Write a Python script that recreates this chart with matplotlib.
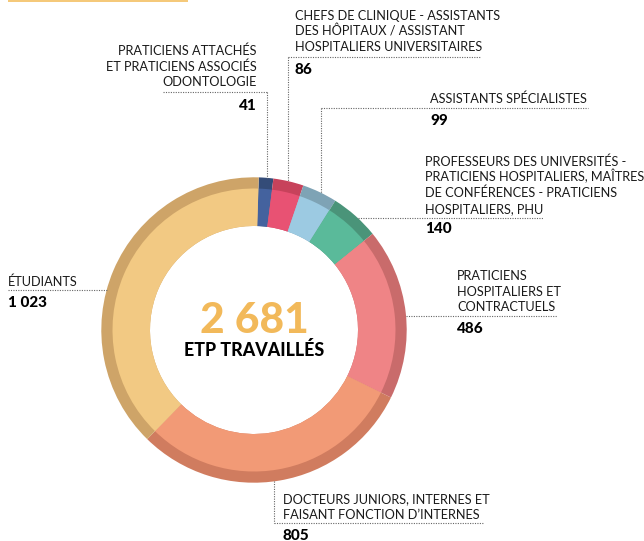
import numpy as np
import matplotlib.pyplot as plt
from matplotlib.patches import Rectangle

plt.rcParams['font.family'] = ['Lato', 'DejaVu Sans']

# data, clockwise from the top of the ring
categories = [
    "PRATICIENS ATTACHÉS\nET PRATICIENS ASSOCIÉS\nODONTOLOGIE",
    "CHEFS DE CLINIQUE - ASSISTANTS\nDES HÔPITAUX / ASSISTANT\nHOSPITALIERS UNIVERSITAIRES",
    "ASSISTANTS SPÉCIALISTES",
    "PROFESSEURS DES UNIVERSITÉS -\nPRATICIENS HOSPITALIERS, MAÎTRES\nDE CONFÉRENCES - PRATICIENS\nHOSPITALIERS, PHU",
    "PRATICIENS\nHOSPITALIERS ET\nCONTRACTUELS",
    "DOCTEURS JUNIORS, INTERNES ET\nFAISANT FONCTION D’INTERNES",
    "ÉTUDIANTS",
]
values = [41, 86, 99, 140, 486, 805, 1023]
value_labels = ["41", "86", "99", "140", "486", "805", "1 023"]
total_label = "2 681"
total_caption = "ETP TRAVAILLÉS"

fill_colors = ["#44629e", "#e85273", "#9ccae2", "#5aba9a", "#ef8486", "#f29a76", "#f2c983"]
rim_colors = ["#344c78", "#c7425b", "#7ea3b5", "#4a9479", "#c96b6b", "#d07c5f", "#cea468"]

W, H = 644, 541
CX, CY = 254, 330
R_OUT, R_RIM, R_IN = 152.7, 141.5, 104
START = 90 - 1.8
LINE_H = 15.6
DOT = dict(color="#666666", lw=0.8, ls=(0, (1, 1.2)))

# label layout: x, first baseline, ha, value baseline
layout = [
    (257, 55, "right", 110),
    (295, 20, "left", 74),
    (430, 103.3, "left", 125),
    (425, 166, "left", 233.3),
    (457, 280, "left", 332.7),
    (283, 503.3, "left", 539.5),
    (8, 286, "left", 306.7),
]


def py(y):
    return H - y


def ring_y(x, top=True):
    d = np.sqrt(R_OUT ** 2 - (x - CX) ** 2)
    return CY - d if top else CY + d


def ring_x(y, right=True):
    d = np.sqrt(R_OUT ** 2 - (y - CY) ** 2)
    return CX + d if right else CX - d


fig = plt.figure(figsize=(W / 100, H / 100), dpi=100)
ax = fig.add_axes([0, 0, 1, 1])

ax.pie(values, radius=R_OUT, center=(CX, py(CY)), colors=rim_colors,
       startangle=START, counterclock=False,
       wedgeprops=dict(width=R_OUT - R_IN, linewidth=0))
ax.pie(values, radius=R_RIM, center=(CX, py(CY)), colors=fill_colors,
       startangle=START, counterclock=False,
       wedgeprops=dict(width=R_RIM - R_IN, linewidth=0))

ax.set_xlim(0, W)
ax.set_ylim(0, H)
ax.set_aspect("equal")
ax.axis("off")

# little yellow bar at the top
ax.add_patch(Rectangle((8, py(2)), 180, 2, color="#f5c97a", lw=0))

# centre
ax.text(CX, py(333), total_label, ha="center", va="baseline", fontsize=30.5,
        fontweight="black", color="#f2b95a")
ax.text(CX, py(355.5), total_caption, ha="center", va="baseline", fontsize=12.8,
        fontweight="black", color="black")

# category labels
for cat, val, (x, y0, ha, yv) in zip(categories, value_labels, layout):
    for k, line in enumerate(cat.split("\n")):
        ax.text(x, py(y0 + k * LINE_H), line, ha=ha, va="baseline",
                fontsize=9.2, color="#1a1a1a")
    ax.text(x, py(yv), val, ha=ha, va="baseline", fontsize=11,
            fontweight="black", color="black")

# leader lines
ax.plot([163, 266.7], [py(91.7)] * 2, **DOT)
ax.plot([266.7, 266.7], [py(91.7), py(ring_y(266.7))], **DOT)
ax.plot([288, 480], [py(57.3)] * 2, **DOT)
ax.plot([288, 288], [py(57.3), py(ring_y(288))], **DOT)
ax.plot([320.7, 588], [py(108.3)] * 2, **DOT)
ax.plot([320.7, 320.7], [py(108.3), py(ring_y(320.7))], **DOT)
ax.plot([ring_x(218.3), 543], [py(218.3)] * 2, **DOT)
ax.plot([ring_x(316), 556.7], [py(316)] * 2, **DOT)
ax.plot([8, ring_x(290, right=False)], [py(290)] * 2, **DOT)
ax.plot([274, 274], [py(ring_y(274, top=False)), py(522.7)], **DOT)
ax.plot([274, 483], [py(522.7)] * 2, **DOT)

fig.savefig("out.png", dpi=100)
